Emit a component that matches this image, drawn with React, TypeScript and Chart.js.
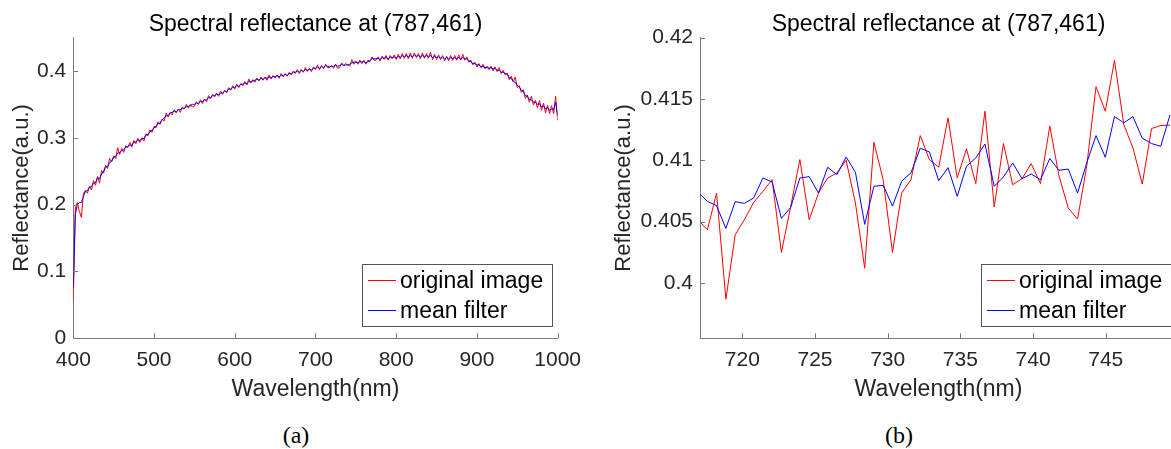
import React, { useEffect, useRef } from "react";
import { Chart, registerables } from "chart.js";

Chart.register(...registerables);

// ---------- Panel (a): full spectrum (sampled every 2.5 nm) ----------
const wlFull = [
  400, 402.5, 405, 407.5, 410, 412.5, 415, 417.5, 420, 422.5,
  425, 427.5, 430, 432.5, 435, 437.5, 440, 442.5, 445, 447.5,
  450, 452.5, 455, 457.5, 460, 462.5, 465, 467.5, 470, 472.5,
  475, 477.5, 480, 482.5, 485, 487.5, 490, 492.5, 495, 497.5,
  500, 502.5, 505, 507.5, 510, 512.5, 515, 517.5, 520, 522.5,
  525, 527.5, 530, 532.5, 535, 537.5, 540, 542.5, 545, 547.5,
  550, 552.5, 555, 557.5, 560, 562.5, 565, 567.5, 570, 572.5,
  575, 577.5, 580, 582.5, 585, 587.5, 590, 592.5, 595, 597.5,
  600, 602.5, 605, 607.5, 610, 612.5, 615, 617.5, 620, 622.5,
  625, 627.5, 630, 632.5, 635, 637.5, 640, 642.5, 645, 647.5,
  650, 652.5, 655, 657.5, 660, 662.5, 665, 667.5, 670, 672.5,
  675, 677.5, 680, 682.5, 685, 687.5, 690, 692.5, 695, 697.5,
  700, 702.5, 705, 707.5, 710, 712.5, 715, 717.5, 720, 722.5,
  725, 727.5, 730, 732.5, 735, 737.5, 740, 742.5, 745, 747.5,
  750, 752.5, 755, 757.5, 760, 762.5, 765, 767.5, 770, 772.5,
  775, 777.5, 780, 782.5, 785, 787.5, 790, 792.5, 795, 797.5,
  800, 802.5, 805, 807.5, 810, 812.5, 815, 817.5, 820, 822.5,
  825, 827.5, 830, 832.5, 835, 837.5, 840, 842.5, 845, 847.5,
  850, 852.5, 855, 857.5, 860, 862.5, 865, 867.5, 870, 872.5,
  875, 877.5, 880, 882.5, 885, 887.5, 890, 892.5, 895, 897.5,
  900, 902.5, 905, 907.5, 910, 912.5, 915, 917.5, 920, 922.5,
  925, 927.5, 930, 932.5, 935, 937.5, 940, 942.5, 945, 947.5,
  950, 952.5, 955, 957.5, 960, 962.5, 965, 967.5, 970, 972.5,
  975, 977.5, 980, 982.5, 985, 987.5, 990, 992.5, 995, 997.5,
  1000,
];
const originalFull = [
  0.058, 0.195, 0.203, 0.19, 0.181, 0.216, 0.221, 0.217, 0.227, 0.222,
  0.236, 0.229, 0.242, 0.232, 0.251, 0.247, 0.259, 0.254, 0.269, 0.264,
  0.273, 0.269, 0.285, 0.275, 0.284, 0.278, 0.288, 0.285, 0.293, 0.286,
  0.296, 0.291, 0.299, 0.293, 0.3, 0.295, 0.306, 0.303, 0.312, 0.308,
  0.317, 0.315, 0.324, 0.32, 0.328, 0.325, 0.337, 0.331, 0.338, 0.334,
  0.342, 0.337, 0.343, 0.338, 0.346, 0.343, 0.35, 0.344, 0.35, 0.346,
  0.347, 0.354, 0.35, 0.357, 0.351, 0.358, 0.354, 0.363, 0.358, 0.365,
  0.361, 0.367, 0.362, 0.37, 0.365, 0.371, 0.367, 0.375, 0.371, 0.378,
  0.373, 0.38, 0.375, 0.381, 0.378, 0.384, 0.379, 0.388, 0.382, 0.387,
  0.383, 0.389, 0.385, 0.391, 0.386, 0.391, 0.386, 0.394, 0.388, 0.393,
  0.389, 0.394, 0.389, 0.396, 0.391, 0.396, 0.392, 0.398, 0.394, 0.4,
  0.396, 0.402, 0.396, 0.402, 0.398, 0.405, 0.399, 0.404, 0.399, 0.406,
  0.402, 0.409, 0.402, 0.408, 0.403, 0.41, 0.405, 0.405, 0.408, 0.404,
  0.41, 0.404, 0.405, 0.412, 0.408, 0.411, 0.409, 0.407, 0.417, 0.41,
  0.415, 0.41, 0.416, 0.411, 0.416, 0.41, 0.416, 0.414, 0.421, 0.416,
  0.416, 0.421, 0.415, 0.422, 0.417, 0.423, 0.416, 0.423, 0.418, 0.424,
  0.417, 0.425, 0.418, 0.426, 0.419, 0.426, 0.418, 0.427, 0.419, 0.427,
  0.42, 0.426, 0.418, 0.427, 0.419, 0.426, 0.419, 0.428, 0.417, 0.425,
  0.417, 0.424, 0.417, 0.423, 0.415, 0.422, 0.415, 0.423, 0.416, 0.423,
  0.416, 0.424, 0.416, 0.425, 0.416, 0.421, 0.413, 0.416, 0.409, 0.413,
  0.406, 0.411, 0.405, 0.41, 0.403, 0.407, 0.402, 0.407, 0.4, 0.406,
  0.399, 0.405, 0.396, 0.401, 0.394, 0.397, 0.387, 0.392, 0.384, 0.391,
  0.375, 0.378, 0.368, 0.372, 0.359, 0.364, 0.353, 0.362, 0.349, 0.356,
  0.345, 0.356, 0.341, 0.352, 0.337, 0.349, 0.336, 0.348, 0.336, 0.362,
  0.326,
];
const meanFull = [
  0.075, 0.185, 0.2, 0.203, 0.203, 0.212, 0.22, 0.221, 0.226, 0.227,
  0.232, 0.233, 0.24, 0.239, 0.246, 0.25, 0.256, 0.257, 0.263, 0.265,
  0.271, 0.272, 0.277, 0.278, 0.281, 0.282, 0.286, 0.287, 0.289, 0.289,
  0.293, 0.294, 0.297, 0.296, 0.299, 0.299, 0.304, 0.305, 0.309, 0.311,
  0.315, 0.317, 0.321, 0.322, 0.327, 0.329, 0.333, 0.333, 0.337, 0.338,
  0.34, 0.339, 0.342, 0.342, 0.344, 0.344, 0.347, 0.347, 0.348, 0.35,
  0.35, 0.352, 0.351, 0.354, 0.354, 0.357, 0.356, 0.36, 0.36, 0.363,
  0.363, 0.365, 0.364, 0.367, 0.367, 0.37, 0.369, 0.373, 0.373, 0.375,
  0.375, 0.378, 0.377, 0.38, 0.38, 0.382, 0.381, 0.384, 0.384, 0.385,
  0.386, 0.388, 0.386, 0.389, 0.387, 0.39, 0.389, 0.391, 0.389, 0.392,
  0.391, 0.393, 0.391, 0.394, 0.393, 0.395, 0.393, 0.396, 0.396, 0.398,
  0.398, 0.4, 0.398, 0.401, 0.399, 0.402, 0.401, 0.403, 0.401, 0.404,
  0.404, 0.406, 0.404, 0.407, 0.405, 0.408, 0.407, 0.406, 0.407, 0.407,
  0.409, 0.407, 0.408, 0.41, 0.408, 0.409, 0.409, 0.41, 0.412, 0.413,
  0.413, 0.412, 0.414, 0.413, 0.414, 0.412, 0.414, 0.415, 0.419, 0.418,
  0.418, 0.419, 0.417, 0.42, 0.419, 0.42, 0.418, 0.421, 0.42, 0.421,
  0.419, 0.422, 0.42, 0.423, 0.421, 0.423, 0.421, 0.423, 0.421, 0.424,
  0.422, 0.423, 0.421, 0.423, 0.421, 0.423, 0.421, 0.423, 0.42, 0.422,
  0.42, 0.421, 0.419, 0.421, 0.418, 0.42, 0.418, 0.42, 0.418, 0.42,
  0.418, 0.42, 0.418, 0.42, 0.418, 0.418, 0.415, 0.414, 0.411, 0.411,
  0.409, 0.409, 0.406, 0.407, 0.405, 0.405, 0.404, 0.405, 0.403, 0.404,
  0.401, 0.401, 0.398, 0.398, 0.396, 0.395, 0.39, 0.389, 0.384, 0.383,
  0.378, 0.376, 0.371, 0.369, 0.363, 0.362, 0.357, 0.357, 0.353, 0.353,
  0.35, 0.351, 0.346, 0.348, 0.343, 0.345, 0.341, 0.343, 0.342, 0.353,
  0.334,
];
const xTicksA = [400, 500, 600, 700, 800, 900, 1000];
const yTicksA = [0, 0.1, 0.2, 0.3, 0.4];

// ---------- Panel (b): zoomed region ----------
const wlZoom = [
  716.96, 717.6, 718.23, 718.87, 719.51, 720.14, 720.78, 721.42, 722.05, 722.69, 723.33, 723.96, 724.6,
  725.24, 725.87, 726.51, 727.14, 727.78, 728.42, 729.05, 729.69, 730.33, 730.96, 731.6, 732.24, 732.87,
  733.51, 734.15, 734.78, 735.42, 736.06, 736.69, 737.33, 737.96, 738.6, 739.24, 739.87, 740.51, 741.15,
  741.78, 742.42, 743.06, 743.69, 744.33, 744.97, 745.6, 746.24, 746.87, 747.51, 748.15, 748.78, 749.42,
];
const originalZoom = [
  0.40513, 0.40434, 0.40733, 0.39868, 0.40393, 0.40516, 0.40657, 0.40747, 0.40842, 0.40249, 0.40625, 0.41006, 0.40516,
  0.40733, 0.40856, 0.40897, 0.41, 0.40652, 0.40121, 0.41147, 0.40842, 0.40249, 0.40733, 0.40842, 0.41201, 0.41005,
  0.40943, 0.41346, 0.40856, 0.41093, 0.4081, 0.414, 0.40619, 0.41136, 0.40801, 0.4085, 0.40973, 0.4081, 0.41278,
  0.40875, 0.40611, 0.40521, 0.40951, 0.41599, 0.414, 0.41814, 0.41291, 0.41101, 0.40807, 0.41258, 0.41283, 0.41286,
];
const meanZoom = [
  0.40739, 0.40665, 0.4063, 0.40445, 0.40663, 0.40649, 0.40693, 0.40856, 0.40823, 0.40527, 0.40616, 0.40856, 0.40867,
  0.40733, 0.40943, 0.40883, 0.41027, 0.40902, 0.40478, 0.40788, 0.40796, 0.40627, 0.40829, 0.40897, 0.41098, 0.41068,
  0.40834, 0.4094, 0.40706, 0.40951, 0.41019, 0.41133, 0.40788, 0.40864, 0.40978, 0.4085, 0.40888, 0.40842, 0.41014,
  0.40918, 0.40929, 0.40733, 0.40978, 0.41201, 0.41024, 0.41356, 0.41305, 0.41356, 0.4118, 0.41136, 0.41114, 0.4137,
];
const xTicksB = [720, 725, 730, 735, 740, 745];
const yTicksB = [0.4, 0.405, 0.41, 0.415, 0.42];

const TITLE = "Spectral reflectance at (787,461)";
const X_TITLE = "Wavelength(nm)";
const Y_TITLE = "Reflectance(a.u.)";
const SERIES_NAMES = ["original image", "mean filter"];
const RED = "rgb(255,0,0)";
const BLUE = "rgb(0,0,255)";

const FONT = "'Liberation Sans', Arial, Helvetica, sans-serif";
const AXIS_COLOR = "#7a7a7a";
const TEXT_COLOR = "#262626";

const fmt = (v: number) => String(+Number(v).toFixed(4));

const matlabPlugin = {
  id: "matlabLook",
  afterDatasetsDraw(chart: any) {
    const { ctx, chartArea: ca, scales } = chart;
    ctx.save();
    ctx.fillStyle = AXIS_COLOR;
    for (const t of scales.x.ticks) {
      const px = Math.round(scales.x.getPixelForValue(t.value));
      ctx.fillRect(px, ca.bottom - 5, 1, 5);
    }
    for (const t of scales.y.ticks) {
      const py = Math.round(scales.y.getPixelForValue(t.value));
      ctx.fillRect(ca.left, py, 5, 1);
    }

    // legend box inside plot, bottom-right
    const w = 190;
    const h = 62;
    const right = Math.round(ca.right - 6);
    const bottom = Math.round(ca.bottom - 12);
    const left = right - w;
    const top = bottom - h;
    ctx.fillStyle = "#fff";
    ctx.fillRect(left, top, w, h);
    ctx.fillStyle = "#555";
    ctx.fillRect(left, top, w, 1);
    ctx.fillRect(left, top + h, w + 1, 1);
    ctx.fillRect(left, top, 1, h);
    ctx.fillRect(left + w, top, 1, h);
    const rows = [
      { name: SERIES_NAMES[0], color: RED, y: top + 16 },
      { name: SERIES_NAMES[1], color: BLUE, y: top + 46 },
    ];
    ctx.font = `23px ${FONT}`;
    ctx.textBaseline = "middle";
    ctx.textAlign = "left";
    for (const r of rows) {
      ctx.fillStyle = r.color;
      ctx.fillRect(left + 6, r.y, 28, 1);
      ctx.fillStyle = "#000";
      ctx.fillText(r.name, left + 38, r.y + 1.5);
    }
    ctx.restore();
  },
};

type PanelProps = {
  wl: number[];
  orig: number[];
  mean: number[];
  xMin: number;
  xMax: number;
  yMin: number;
  yMax: number;
  xTicks: number[];
  yTicks: number[];
  yWidth: number;
  yTitlePad: number;
  padRight: number;
  width: number;
  height: number;
  left: number;
};

function Panel(p: PanelProps) {
  const ref = useRef<HTMLCanvasElement>(null);
  useEffect(() => {
    if (!ref.current) return;
    const chart = new Chart(ref.current, {
      type: "line",
      data: {
        datasets: [
          {
            label: SERIES_NAMES[0],
            data: p.wl.map((x, i) => ({ x, y: p.orig[i] })),
            borderColor: RED,
            borderWidth: 1,
            pointRadius: 0,
            tension: 0,
            order: 1,
          },
          {
            label: SERIES_NAMES[1],
            data: p.wl.map((x, i) => ({ x, y: p.mean[i] })),
            borderColor: BLUE,
            borderWidth: 1,
            pointRadius: 0,
            tension: 0,
            order: 0,
          },
        ],
      },
      options: {
        animation: false,
        responsive: false,
        maintainAspectRatio: false,
        layout: { padding: { left: 0, top: 0, right: p.padRight, bottom: 0 } },
        plugins: {
          legend: { display: false },
          tooltip: { enabled: false },
          title: {
            display: true,
            text: TITLE,
            fullSize: false,
            color: "#000",
            font: { family: FONT, size: 23, weight: "normal", lineHeight: 1 },
            padding: { top: 13, bottom: 1.5 },
          },
        },
        scales: {
          x: {
            type: "linear",
            min: p.xMin,
            max: p.xMax,
            afterBuildTicks: (s: any) => {
              s.ticks = p.xTicks.map((v) => ({ value: v }));
            },
            afterFit: (s: any) => {
              s.height = p.height - 338.3;
            },
            ticks: {
              font: { family: FONT, size: 21 },
              color: TEXT_COLOR,
              padding: 9,
              maxRotation: 0,
              autoSkip: false,
              callback: (v: any) => fmt(v),
            },
            grid: { display: true, drawOnChartArea: false, drawTicks: false },
            border: { display: true, color: AXIS_COLOR, width: 1 },
            title: {
              display: true,
              text: X_TITLE,
              color: TEXT_COLOR,
              font: { family: FONT, size: 23 },
              padding: { top: 0, bottom: 7 },
            },
          },
          y: {
            type: "linear",
            min: p.yMin,
            max: p.yMax,
            afterBuildTicks: (s: any) => {
              s.ticks = p.yTicks.map((v) => ({ value: v }));
            },
            afterFit: (s: any) => {
              s.width = p.yWidth;
            },
            ticks: {
              font: { family: FONT, size: 21 },
              color: TEXT_COLOR,
              padding: 7,
              autoSkip: false,
              callback: (v: any) => fmt(v),
            },
            grid: { display: true, drawOnChartArea: false, drawTicks: false },
            border: { display: true, color: AXIS_COLOR, width: 1 },
            title: {
              display: true,
              text: Y_TITLE,
              color: TEXT_COLOR,
              font: { family: FONT, size: 22 },
              padding: { top: p.yTitlePad, bottom: 0 },
            },
          },
        },
      },
      plugins: [matlabPlugin],
    } as any);
    return () => chart.destroy();
  }, []);
  return (
    <canvas
      ref={ref}
      width={p.width}
      height={p.height}
      style={{ position: "absolute", left: p.left, top: 0, width: p.width, height: p.height }}
    />
  );
}

export default function App() {
  const captionStyle: React.CSSProperties = {
    position: "absolute",
    top: 421,
    fontFamily: "'Liberation Serif', 'DejaVu Serif', serif",
    fontSize: 24,
    lineHeight: "28px",
    color: "#000",
    transform: "translateX(-50%)",
  };
  return (
    <div
      style={{
        position: "absolute",
        left: 0,
        top: 0,
        width: 1171,
        height: 449,
        overflow: "hidden",
        background: "#fff",
      }}
    >
      <Panel
        wl={wlFull}
        orig={originalFull}
        mean={meanFull}
        xMin={400}
        xMax={1000}
        yMin={0}
        yMax={0.45}
        xTicks={xTicksA}
        yTicks={yTicksA}
        yWidth={73.3}
        yTitlePad={9}
        padRight={30}
        width={590}
        height={410}
        left={0}
      />
      <Panel
        wl={wlZoom}
        orig={originalZoom}
        mean={meanZoom}
        xMin={717.09}
        xMax={749.9}
        yMin={0.3955}
        yMax={0.42}
        xTicks={xTicksB}
        yTicks={yTicksB}
        yWidth={110}
        yTitlePad={21}
        padRight={13}
        width={600}
        height={410}
        left={590}
      />
      <div style={{ ...captionStyle, left: 296 }}>(a)</div>
      <div style={{ ...captionStyle, left: 899 }}>(b)</div>
    </div>
  );
}
